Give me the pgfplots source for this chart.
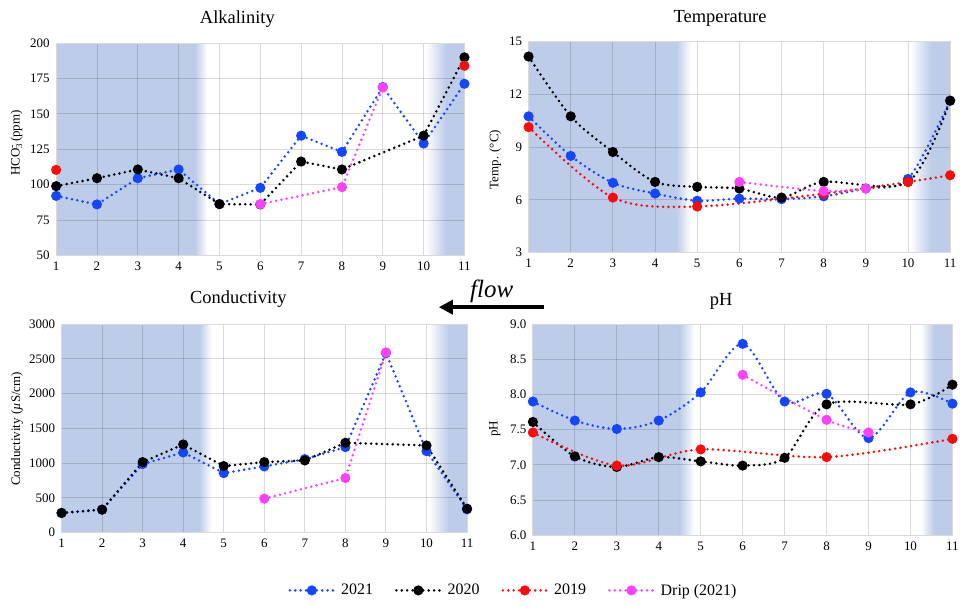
\documentclass[border=0pt]{standalone}
\usepackage{fontspec}
\setmainfont{Liberation Serif}
\usepackage{pgfplots}
\pgfplotsset{compat=1.18}
\usetikzlibrary{arrows.meta}
\definecolor{cblue}{RGB}{20,70,255}
\definecolor{cmag}{RGB}{255,64,255}
\definecolor{cred}{RGB}{255,10,10}
\definecolor{shadefill}{RGB}{189,204,232}
\definecolor{gridgray}{RGB}{217,217,217}

\tikzset{
  dotline/.style={line width=2.8pt, dash pattern=on 0pt off 5.4pt, line cap=round},
  s21/.style={cblue, dotline, mark=*, mark size=3.6pt, mark options={solid, fill=cblue, draw=cblue}},
  s20/.style={black, dotline, mark=*, mark size=3.6pt, mark options={solid, fill=black, draw=black}},
  s19/.style={cred, dotline, mark=*, mark size=3.6pt, mark options={solid, fill=cred, draw=cred}},
  sdr/.style={cmag, dotline, mark=*, mark size=3.6pt, mark options={solid, fill=cmag, draw=cmag}},
}

\pgfplotsset{
  panel/.style={
    set layers,
    scale only axis,
    xmin=1, xmax=11,
    xtick={1,...,11},
    grid=major,
    major grid style={draw=black, draw opacity=0.14, line width=0.9pt},
    axis line style={gridgray, line width=0.9pt},
    major tick length=0pt,
    tick label style={font=\fontsize{13}{15}\selectfont},
    /pgf/number format/assume math mode=true,
    /pgf/number format/1000 sep={},
    yticklabel style={xshift=-3pt},
    xticklabel style={yshift=-3pt},
  },
  bgsolid/.style={draw=none, fill=shadefill, on layer=axis background, forget plot},
  bgfadeout/.style={draw=none, left color=shadefill, right color=white, on layer=axis background, forget plot},
  bgfadein/.style={draw=none, left color=white, right color=shadefill, on layer=axis background, forget plot},
}

\begin{document}
\begin{tikzpicture}
\path (0,0) rectangle (962pt,608pt);

% ---------- Alkalinity ----------
\begin{axis}[panel, at={(56.3pt,352pt)}, anchor=south west,
  width=409.4pt, height=212.7pt,
  ymin=50, ymax=200, ytick={50,75,...,200}]
  \addplot[bgsolid] coordinates {(1,50) (4.4,50) (4.4,200) (1,200)} -- cycle;
  \addplot[bgfadeout] coordinates {(4.4,50) (4.7,50) (4.7,200) (4.4,200)} -- cycle;
  \addplot[bgfadein] coordinates {(10.05,50) (10.55,50) (10.55,200) (10.05,200)} -- cycle;
  \addplot[bgsolid] coordinates {(10.55,50) (11,50) (11,200) (10.55,200)} -- cycle;
  \addplot[s21] coordinates {(1,92) (2,86) (3,104.5) (4,110.7) (5,86.2) (6,97.7) (7,134.6) (8,123.1) (9,169) (10,129) (11,171.3)};
  \addplot[s20] coordinates {(1,98.9) (2,104.5) (3,110.7) (4,104.5) (5,86.2) (6,86) (7,116.3) (8,110.7) (10,134.6) (11,190)};
  \addplot[s19, only marks] coordinates {(1,110.4) (11,184)};
  \addplot[sdr] coordinates {(6,86.2) (8,98.2) (9,168.7)};
\end{axis}

% ---------- Temperature ----------
\begin{axis}[panel, at={(530pt,354.7pt)}, anchor=south west,
  width=422.7pt, height=211.6pt,
  ymin=3, ymax=15, ytick={3,6,...,15}]
  \addplot[bgsolid] coordinates {(1,3) (4.5,3) (4.5,15) (1,15)} -- cycle;
  \addplot[bgfadeout] coordinates {(4.5,3) (4.85,3) (4.85,15) (4.5,15)} -- cycle;
  \addplot[bgfadein] coordinates {(10.05,3) (10.55,3) (10.55,15) (10.05,15)} -- cycle;
  \addplot[bgsolid] coordinates {(10.55,3) (11,3) (11,15) (10.55,15)} -- cycle;
  \addplot[s21, smooth] coordinates {(1,10.75) (2,8.5) (3,6.97) (4,6.36) (5,5.95) (6,6.07) (7,6.04) (8,6.2) (9,6.65) (10,7.19) (11,11.64)};
  \addplot[s20, smooth] coordinates {(1,14.15) (2,10.75) (3,8.72) (4,7.02) (5,6.74) (6,6.64) (7,6.13) (8,7.02) (10,7.02) (11,11.64)};
  \addplot[s19, smooth] coordinates {(1,10.14) (3,6.13) (5,5.62) (8,6.35) (10,7.02) (11,7.4)};
  \addplot[sdr, smooth] coordinates {(6,7.02) (8,6.5) (9,6.64)};
\end{axis}

% ---------- Conductivity ----------
\begin{axis}[panel, at={(61.7pt,74pt)}, anchor=south west,
  width=406.6pt, height=209pt,
  ymin=0, ymax=3000, ytick={0,500,...,3000},
  legend style={at={(1.1145,-0.2775)}, anchor=center, draw=none, fill=none,
    font=\fontsize{16}{18}\selectfont, legend columns=4,
    /tikz/every odd column/.append style={column sep=4pt},
    /tikz/every even column/.append style={column sep=20pt}},
  legend image code/.code={\draw[mark repeat=2, mark phase=2, #1] plot coordinates {(0pt,0pt) (22pt,0pt) (44pt,0pt)};}]
  \addplot[bgsolid] coordinates {(1,0) (4.4,0) (4.4,3000) (1,3000)} -- cycle;
  \addplot[bgfadeout] coordinates {(4.4,0) (4.7,0) (4.7,3000) (4.4,3000)} -- cycle;
  \addplot[bgfadein] coordinates {(10.05,0) (10.55,0) (10.55,3000) (10.05,3000)} -- cycle;
  \addplot[bgsolid] coordinates {(10.55,0) (11,0) (11,3000) (10.55,3000)} -- cycle;
  \addplot[s21, forget plot] coordinates {(1,282) (2,330) (3,986) (4,1153) (5,856) (6,952) (7,1057) (8,1230) (9,2584) (10,1172) (11,335)};
  \addplot[s20, forget plot] coordinates {(1,282) (2,330) (3,1014) (4,1268) (5,957) (6,1014) (7,1038) (8,1292) (10,1254) (11,344)};
  \addplot[sdr, forget plot] coordinates {(6,488) (8,785) (9,2593)};
  \addlegendimage{s21}\addlegendentry{2021}
  \addlegendimage{s20}\addlegendentry{2020}
  \addlegendimage{s19}\addlegendentry{2019}
  \addlegendimage{sdr}\addlegendentry{Drip (2021)}
\end{axis}

% ---------- pH ----------
\begin{axis}[panel, at={(534.3pt,71.3pt)}, anchor=south west,
  width=420.7pt, height=211.7pt,
  ymin=6, ymax=9, ytick={6,6.5,...,9},
  yticklabel style={/pgf/number format/fixed, /pgf/number format/fixed zerofill, /pgf/number format/precision=1}]
  \addplot[bgsolid] coordinates {(1,6) (4.5,6) (4.5,9) (1,9)} -- cycle;
  \addplot[bgfadeout] coordinates {(4.5,6) (4.85,6) (4.85,9) (4.5,9)} -- cycle;
  \addplot[bgfadein] coordinates {(10.25,6) (10.56,6) (10.56,9) (10.25,9)} -- cycle;
  \addplot[bgsolid] coordinates {(10.56,6) (11,6) (11,9) (10.56,9)} -- cycle;
  \addplot[s21, smooth] coordinates {(1,7.90) (2,7.63) (3,7.51) (4,7.63) (5,8.03) (6,8.72) (7,7.90) (8,8.01) (9,7.38) (10,8.03) (11,7.87)};
  \addplot[s20, smooth] coordinates {(1,7.61) (2,7.12) (3,6.97) (4,7.11) (5,7.05) (6,6.99) (7,7.10) (8,7.86) (10,7.86) (11,8.14)};
  \addplot[s19, smooth] coordinates {(1,7.46) (3,6.99) (5,7.22) (8,7.11) (11,7.37)};
  \addplot[sdr, smooth] coordinates {(6,8.28) (8,7.64) (9,7.46)};
\end{axis}

% ---------- titles and labels ----------
\node[anchor=base, font=\fontsize{18.5}{20}\selectfont] at (238pt,584.7pt) {Alkalinity};
\node[anchor=base, font=\fontsize{18.5}{20}\selectfont] at (722pt,585.3pt) {Temperature};
\node[anchor=base, font=\fontsize{18.5}{20}\selectfont] at (239pt,304pt) {Conductivity};
\node[anchor=base, font=\fontsize{18.5}{20}\selectfont] at (723pt,301.3pt) {pH};

\node[rotate=90, font=\fontsize{13}{15}\selectfont] at (16.5pt,464.5pt) {HCO\rlap{\raisebox{4.5pt}{\fontsize{10}{10}\selectfont -}}\raisebox{-2.5pt}{\fontsize{9}{9}\selectfont 3}\,(ppm)};
\node[rotate=90, font=\fontsize{13}{15}\selectfont] at (496.5pt,448pt) {Temp. (°C)};
\node[rotate=90, font=\fontsize{13}{15}\selectfont] at (17pt,178pt) {Conductivity (\textit{µ}S/cm)};
\node[rotate=90, font=\fontsize{13}{15}\selectfont] at (496pt,178pt) {pH};

% ---------- flow arrow ----------
\node[anchor=base, font=\itshape\fontsize{25}{27}\selectfont] at (493pt,310pt) {flow};
\draw[line width=4pt, -{Triangle[length=14pt,width=14pt]}] (545pt,300pt) -- (440pt,300pt);
\end{tikzpicture}
\end{document}
